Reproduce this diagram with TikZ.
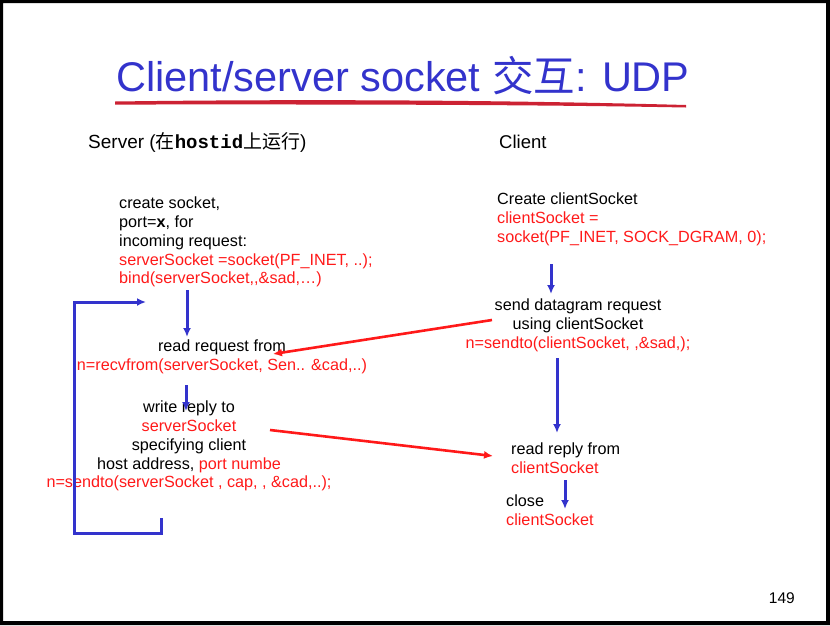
\documentclass[tikz,border=0pt]{standalone}
\usepackage{fontspec}
\setmainfont{Liberation Sans}
\setmonofont{Liberation Mono}
\newfontfamily\cjk{Noto Sans CJK SC}
\usetikzlibrary{arrows.meta}
\definecolor{slideblue}{RGB}{51,51,204}
\definecolor{codered}{RGB}{255,25,25}
\definecolor{underred}{RGB}{204,34,51}

\begin{document}
\begin{tikzpicture}[x=1pt,y=-1pt]
\tikzset{txt/.style = {anchor=north west, inner sep=0pt, align=left, font=\fontsize{16.2}{18.7}\selectfont}}
\tikzset{ctxt/.style = {txt, anchor=north, align=center}}
\tikzset{flow/.style = {-{Latex[length=9pt,width=8pt]}, line width=3pt, slideblue}}
\tikzset{msg/.style = {-{Latex[length=9pt,width=8pt]}, line width=2.6pt, codered}}
\newcommand{\rd}[1]{\textcolor{codered}{#1}}
\useasboundingbox (0,0) rectangle (830,625);
% frame
\fill[black, even odd rule] (0,0) rectangle (830,625) (3,3) rectangle (826,621);

% title
\node[anchor=base west, inner sep=0pt, slideblue, font=\fontsize{41.5}{46}\selectfont] (title) at (116,91)
  {Client/server socket {\cjk 交互}: UDP};
\fill[underred] (115,101.5) .. controls (300,99) and (500,100) .. (686,105)
  -- (686,107.5) .. controls (500,104) and (300,104.5) .. (115,104.5) -- cycle;

% headers
\node[anchor=base west, inner sep=0pt, font=\fontsize{19}{22}\selectfont] (server) at (88,148)
  {Server ({\cjk 在}{\ttfamily\bfseries hostid}{\cjk 上运行})};
\node[anchor=base west, inner sep=0pt, font=\fontsize{18.5}{22}\selectfont] (client) at (499,148) {Client};

% server side
\node[txt] (create) at (119,197) {create socket,\\ port=$\mathbf{x}$, for\\ incoming request:\\
  \rd{serverSocket =socket(PF\_INET, ..);}\\ \rd{bind(serverSocket,{},\&sad,\dots)}};
\node[ctxt] (recv) at (222,340) {read request from\\ \rd{n=recvfrom(serverSocket, Sen.. \&cad,..)}};
\node[ctxt] (reply) at (189,401) {write reply to\\ \rd{serverSocket}\\ specifying client\\
  host address, \rd{port numbe}\\ \rd{n=sendto(serverSocket , cap, , \&cad,..);}};

% client side
\node[txt] (csock) at (497,193) {Create clientSocket\\ \rd{clientSocket =}\\ \rd{socket(PF\_INET, SOCK\_DGRAM, 0);}};
\node[ctxt] (send) at (578,299) {send datagram request\\ using clientSocket\\ \rd{n=sendto(clientSocket, ,\&sad,);}};
\node[txt] (rread) at (511,443) {read reply from\\ \rd{clientSocket}};
\node[txt] (close) at (506,495) {close\\ \rd{clientSocket}};

\node[anchor=base east, inner sep=0pt, font=\fontsize{15.5}{18}\selectfont] (page) at (795,603) {149};

% connector ends
\coordinate (s1) at (187,290); \coordinate (s2) at (187,337);
\coordinate (s3) at (186,385); \coordinate (s4) at (186,411);
\coordinate (c1) at (551,264); \coordinate (c2) at (551,294);
\coordinate (c3) at (557,358); \coordinate (c4) at (557,433);
\coordinate (c5) at (565,480); \coordinate (c6) at (565,509);
\coordinate (l0) at (161,518); \coordinate (l1) at (161,533);
\coordinate (l2) at (74,533);  \coordinate (l3) at (74,302);
\coordinate (l4) at (146,302);
\coordinate (reqout) at (492,320); \coordinate (reqin) at (273,354);
\coordinate (repout) at (270,430); \coordinate (repin) at (493,456);

% flow
\draw[flow] (s1) -- (s2);
\draw[flow] (s3) -- (s4);
\draw[flow] (c1) -- (c2);
\draw[flow] (c3) -- (c4);
\draw[flow] (c5) -- (c6);
\draw[flow] (l0) -- (l1) -- (l2) -- (l3) -- (l4);

% messages
\draw[msg] (reqout) -- (reqin);
\draw[msg] (repout) -- (repin);

\end{tikzpicture}
\end{document}
